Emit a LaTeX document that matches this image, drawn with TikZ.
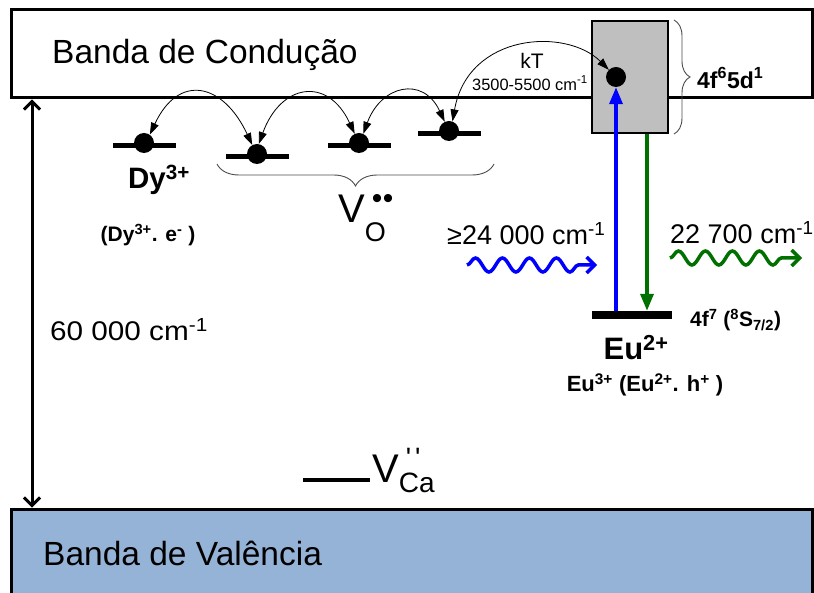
\documentclass[tikz,border=0pt]{standalone}
\usepackage{fontspec}
\setmainfont{Liberation Sans}
\usetikzlibrary{arrows.meta, positioning, decorations.pathreplacing, decorations.pathmorphing}

\definecolor{vbblue}{RGB}{149,179,215}
\definecolor{boxgray}{RGB}{191,191,191}
\definecolor{excblue}{RGB}{0,0,255}
\definecolor{emigreen}{RGB}{0,112,0}

\newcommand{\fs}[1]{\fontsize{#1}{#1}\selectfont}

\begin{document}
\begin{tikzpicture}[x=1pt, y=1pt,
  band/.style={rectangle, draw=black, line width=3pt, inner sep=0pt, minimum width=801pt},
  level/.style={rectangle, fill=black, inner sep=0pt, minimum width=63pt, minimum height=5pt},
  elec/.style={circle, fill=black, inner sep=0pt, minimum size=20pt},
  hop/.style={{Triangle[length=12pt,width=8pt]}-{Triangle[length=12pt,width=8pt]}, line width=0.8pt},
  trans/.style={-{Triangle[length=17pt,width=13pt]}, line width=3.5pt},
  photon/.style={decorate, decoration={snake, amplitude=7pt, segment length=27pt, post length=12pt},
                 line width=3.5pt, -{Straight Barb[length=8pt,width=16pt]}},
  gap/.style={{Straight Barb[length=8pt,width=16pt]}-{Straight Barb[length=8pt,width=16pt]}, line width=3pt},
  curly/.style={decorate, decoration={brace, amplitude=#1}, line width=0.9pt, black!70},
  curly/.default=20pt,
  txt/.style={inner sep=0pt, font=\fs{27}},
  bold/.style={inner sep=0pt, font=\bfseries\fs{22}}
]
\useasboundingbox (0,0) rectangle (814,-593);

\node[band, fill=white, minimum height=88pt] (cb) at (411.5,-54) {};
\node[band, fill=vbblue, minimum height=100pt] (vb) at (411.5,-559) {};
\node[txt, font=\fs{33.5}, anchor=west] (cbl) at (52,-55) {Banda de Condução};
\node[txt, font=\fs{33.5}, anchor=west] (vbl) at (43,-553) {Banda de Valência};

\node[draw=black, line width=2pt, fill=boxgray, inner sep=0pt,
      minimum width=76pt, minimum height=112pt] (eubox) at (630,-77) {};
\draw[curly=16pt] ([xshift=5pt]eubox.north east) -- ([xshift=5pt]eubox.south east);
\node[bold, font=\bfseries\fs{23}, anchor=west] (lv5d) at (697,-78) {4f\textsuperscript{6}5d\textsuperscript{1}};
\node[elec] (eu5d) at (616,-77) {};

\foreach \n/\x/\y in {dy/144/146, voa/257/157, vob/359/146, voc/449/134}{
  \node[level] (l\n) at (\x,-\y) {};
  \node[elec] (\n) at (\x,3-\y) {};
}

\draw[hop] (dy.55) to[out=65,in=115,looseness=1.7] (voa.118);
\draw[hop] (voa.80) to[out=70,in=115,looseness=1.7] (vob.115);
\draw[hop] (vob.65) to[out=70,in=115,looseness=1.6] (voc.115);
\draw[hop] (voc.70) .. controls +(80:90) and +(135:60) .. (eu5d.135);

\node[txt, font=\fs{21}] (kt) at (532,-61) {kT};
\node[txt, font=\fs{16.4}] (kte) at (530,-83) {3500-5500 cm\textsuperscript{-1}};

\draw[curly=22pt] (494,-164) -- (217,-164);
\node[inner sep=0pt, anchor=base west, font=\fs{40}] (vo) at (338,-223)
  {V\rlap{\raisebox{-19pt}{\fs{27}O}}\raisebox{14pt}{\fs{30}\kern7pt•\kern0.5pt•}};

\node[bold, font=\bfseries\fs{29.5}] (dyl) at (159,-180) {Dy\textsuperscript{3+}};
\node[bold, font=\bfseries\fs{21}] (dye) at (148,-235) {(Dy\textsuperscript{3+}. e\textsuperscript{-} )};

\node[level, minimum width=80pt, minimum height=8pt] (eulev) at (632,-315) {};
\coordinate (emtop) at ([xshift=17pt]eubox.south);
\draw[trans, excblue] (eulev.north -| eu5d) -- (eu5d.south);
\draw[trans, emigreen] (emtop) -- (emtop |- eulev.north);

\node[bold, font=\bfseries\fs{31}] (eul) at (636,-348) {Eu\textsuperscript{2+}};
\node[bold] (euh) at (645,-385) {Eu\textsuperscript{3+} (Eu\textsuperscript{2+}. h\textsuperscript{+} )};
\node[bold, font=\bfseries\fs{21}, anchor=west] (eugs) at (690,-320) {4f\textsuperscript{7} (\textsuperscript{8}S\textsubscript{7/2})};

\node[txt, anchor=west] (exl) at (447,-234) {≥24 000 cm\textsuperscript{-1}};
\node[txt, anchor=west] (eml) at (670,-233) {22 700 cm\textsuperscript{-1}};
\coordinate (exa) at (467,-265);
\coordinate (exb) at (597,-265);
\coordinate (ema) at (670,-258);
\coordinate (emb) at (802,-258);
\draw[photon, excblue] (exa) -- (exb);
\draw[photon, emigreen] (ema) -- (emb);

\coordinate (gapx) at (32,0);
\draw[gap] (cb.south -| gapx) -- (vb.north -| gapx);
\node[txt, anchor=west] (gapl) at (50,-330) {\scalebox{1.1}[1]{60 000 cm\textsuperscript{-1}}};

\node[level, minimum width=67pt, minimum height=4pt] (lvca) at (336,-480) {};
\node[inner sep=0pt, anchor=base west, font=\fs{40}] (vca) at (372,-482)
  {V\rlap{\raisebox{-10pt}{\fs{28}Ca}}\raisebox{15pt}{\fs{28}\kern7pt\textquotesingle\kern4pt\textquotesingle}};

\end{tikzpicture}
\end{document}
